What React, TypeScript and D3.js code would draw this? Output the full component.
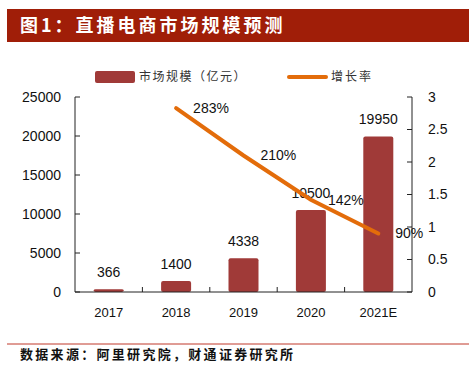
import { useEffect, useRef } from 'react';
import * as d3 from 'd3';

const years = ['2017', '2018', '2019', '2020', '2021E'];
const marketSize = [366, 1400, 4338, 10500, 19950];
const growthYears = ['2018', '2019', '2020', '2021E'];
const growthRate = [2.83, 2.1, 1.42, 0.9];
const growthLabels = ['283%', '210%', '142%', '90%'];
const leftTicks = [0, 5000, 10000, 15000, 20000, 25000];
const rightTicks = [0, 0.5, 1, 1.5, 2, 2.5, 3];

const W = 474;
const H = 368;
const NUM_FONT = '"Liberation Sans", Arial, sans-serif';
const CJK_FONT = '"Noto Sans CJK SC", sans-serif';

const App = () => {
  const svgRef = useRef<SVGSVGElement>(null);

  useEffect(() => {
    const svg = d3.select(svgRef.current);
    svg.selectAll('*').remove();

    // plot area
    const left = 75, right = 412, top = 97, bottom = 292;

    const x = d3.scaleBand().domain(years).range([left, right]);
    const yL = d3.scaleLinear().domain([0, 25000]).range([bottom, top]);
    const yR = d3.scaleLinear().domain([0, 3]).range([bottom, top]);

    // title bar
    svg.append('rect')
      .attr('x', 7).attr('y', 9).attr('width', 462).attr('height', 33)
      .attr('fill', '#A01E08');
    svg.append('text')
      .attr('x', 20).attr('y', 26).attr('dy', '0.35em')
      .attr('fill', '#fff').attr('font-family', CJK_FONT)
      .attr('font-weight', 700).attr('font-size', 18)
      .attr('letter-spacing', 3)
      .text('图1：直播电商市场规模预测');

    // legend
    svg.append('rect')
      .attr('x', 95).attr('y', 71).attr('width', 40).attr('height', 12)
      .attr('rx', 2).attr('fill', '#A03A38');
    svg.append('text')
      .attr('x', 139).attr('y', 77).attr('dy', '0.35em')
      .attr('font-family', CJK_FONT).attr('font-size', 12).attr('fill', '#333')
      .attr('letter-spacing', 1.5)
      .text('市场规模（亿元）');
    svg.append('line')
      .attr('x1', 289).attr('x2', 326).attr('y1', 77).attr('y2', 77)
      .attr('stroke', '#E36C0A').attr('stroke-width', 4).attr('stroke-linecap', 'round');
    svg.append('text')
      .attr('x', 331).attr('y', 77).attr('dy', '0.35em')
      .attr('font-family', CJK_FONT).attr('font-size', 12).attr('fill', '#333')
      .attr('letter-spacing', 2)
      .text('增长率');

    // bars
    const bw = 30;
    svg.append('g')
      .selectAll('rect')
      .data(marketSize)
      .join('rect')
      .attr('x', (_, i) => x(years[i])! + x.bandwidth() / 2 - bw / 2)
      .attr('y', d => yL(d))
      .attr('width', bw)
      .attr('height', d => bottom - yL(d))
      .attr('rx', 2)
      .attr('fill', '#A03A38');

    svg.append('g')
      .selectAll('text')
      .data(marketSize)
      .join('text')
      .attr('x', (_, i) => x(years[i])! + x.bandwidth() / 2)
      .attr('y', d => yL(d) - 12)
      .attr('text-anchor', 'middle')
      .attr('font-family', NUM_FONT).attr('font-size', 14).attr('fill', '#111')
      .text(d => String(d));

    // axes
    const axisG = svg.append('g').attr('stroke', '#222').attr('stroke-width', 1);
    axisG.append('line').attr('x1', left).attr('x2', left).attr('y1', top).attr('y2', bottom);
    axisG.append('line').attr('x1', right).attr('x2', right).attr('y1', top).attr('y2', bottom);
    axisG.append('line').attr('x1', left).attr('x2', right).attr('y1', bottom).attr('y2', bottom);
    axisG.selectAll('.lt').data(leftTicks).join('line')
      .attr('x1', left).attr('x2', left + 5).attr('y1', d => yL(d)).attr('y2', d => yL(d));
    axisG.selectAll('.rt').data(rightTicks).join('line')
      .attr('x1', right - 5).attr('x2', right).attr('y1', d => yR(d)).attr('y2', d => yR(d));
    axisG.selectAll('.xt').data(years.slice(1)).join('line')
      .attr('x1', d => x(d)!).attr('x2', d => x(d)!)
      .attr('y1', bottom).attr('y2', bottom - 5);

    svg.append('g')
      .selectAll('text')
      .data(leftTicks)
      .join('text')
      .attr('x', 61).attr('y', d => yL(d)).attr('dy', '0.35em')
      .attr('text-anchor', 'end')
      .attr('font-family', NUM_FONT).attr('font-size', 14).attr('fill', '#111')
      .text(d => String(d));

    svg.append('g')
      .selectAll('text')
      .data(rightTicks)
      .join('text')
      .attr('x', 428).attr('y', d => yR(d)).attr('dy', '0.35em')
      .attr('font-family', NUM_FONT).attr('font-size', 14).attr('fill', '#111')
      .text(d => String(d));

    svg.append('g')
      .selectAll('text')
      .data(years)
      .join('text')
      .attr('x', d => x(d)! + x.bandwidth() / 2).attr('y', 312).attr('dy', '0.35em')
      .attr('text-anchor', 'middle')
      .attr('font-family', NUM_FONT).attr('font-size', 13).attr('fill', '#111')
      .text(d => d);

    // growth line
    const line = d3.line<number>()
      .x((_, i) => x(growthYears[i])! + x.bandwidth() / 2)
      .y(d => yR(d));
    svg.append('path')
      .attr('d', line(growthRate))
      .attr('fill', 'none')
      .attr('stroke', '#E36C0A')
      .attr('stroke-width', 4)
      .attr('stroke-linecap', 'round');

    svg.append('g')
      .selectAll('text')
      .data(growthRate)
      .join('text')
      .attr('x', (_, i) => x(growthYears[i])! + x.bandwidth() / 2 + 17)
      .attr('y', d => yR(d)).attr('dy', '0.35em')
      .attr('font-family', NUM_FONT).attr('font-size', 14).attr('fill', '#111')
      .text((_, i) => growthLabels[i]);

    // footer
    svg.append('line')
      .attr('x1', 7).attr('x2', 469).attr('y1', 344).attr('y2', 344)
      .attr('stroke', '#C0392B').attr('stroke-width', 1);
    svg.append('text')
      .attr('x', 20).attr('y', 354).attr('dy', '0.35em')
      .attr('font-family', CJK_FONT).attr('font-weight', 700).attr('font-size', 13)
      .attr('letter-spacing', 2.3)
      .attr('fill', '#111')
      .text('数据来源：阿里研究院，财通证券研究所');
  }, []);

  return (
    <svg
      ref={svgRef}
      width={W}
      height={H}
      style={{ position: 'absolute', left: 0, top: 0, background: '#fff' }}
    />
  );
};

export default App;
